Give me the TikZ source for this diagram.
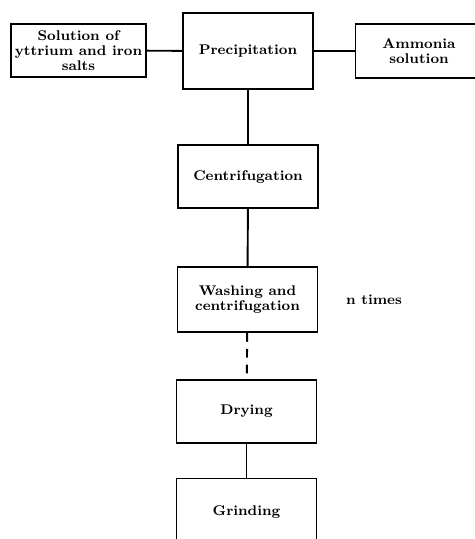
\documentclass[tikz,border=0pt]{standalone}
\usetikzlibrary{positioning}

\tikzset{
    procbox/.style={draw,line width=1.1pt,align=center,inner sep=2pt,
        font=\footnotesize\bfseries,minimum width=2.8cm,minimum height=1.26cm},
    link/.style={line width=1.1pt}
}

\begin{document}
\begin{tikzpicture}[x=0.02cm,y=-0.02cm]
        \clip (0,0) rectangle (475,539);
        \fill[white] (0,0) rectangle (475,539);
        \node[procbox,minimum width=2.54cm,minimum height=1.06cm] (salts) at (78.5,50.5)
            {Solution of\\[-1pt] yttrium and iron\\[-1pt] salts};
        \node[procbox,minimum width=2.6cm,minimum height=1.52cm] (precip) at (248,51) {Precipitation};
        \node[procbox,minimum width=2.54cm,minimum height=1.08cm] (ammonia) at (419,51)
            {Ammonia\\[-1pt] solution};
        \node[procbox] (centrif) at (248,176.5) {Centrifugation};
        \node[procbox,minimum height=1.3cm] (washing) at (247.5,299.5)
            {Washing and\\[-1pt] centrifugation};
        \node[font=\footnotesize\bfseries] (ntimes) at (374,300) {n times};
        \node[procbox] (drying) at (246.5,411.5) {Drying};
        \node[procbox,minimum height=1.34cm] (grinding) at (246.5,512) {Grinding};
        %
        \draw[link] (salts) -- (precip);
        \draw[link] (precip) -- (ammonia);
        \draw[link] (precip) -- (centrif);
        \draw[link] (centrif) -- (washing);
        \draw[link,dash pattern=on 5pt off 4pt] (washing) -- (drying);
        \draw[link] (drying) -- (grinding);
    \end{tikzpicture}
\end{document}
